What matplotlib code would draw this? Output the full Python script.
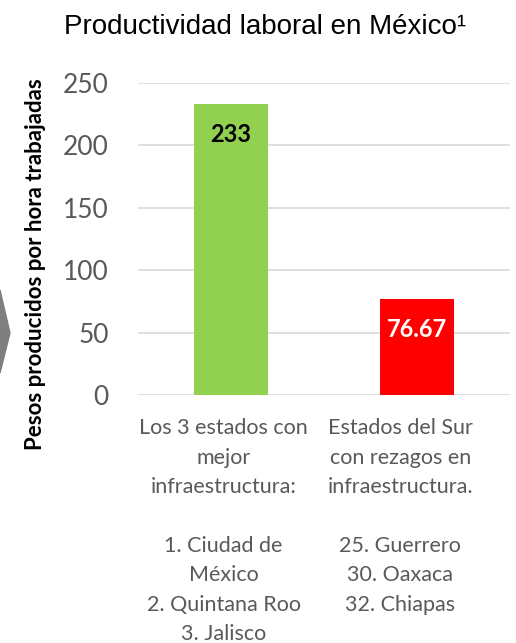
import matplotlib.pyplot as plt
from matplotlib.patches import Polygon

# Datos
categorias = [
    "Los 3 estados con\nmejor\ninfraestructura:\n\n1. Ciudad de\nMéxico\n2. Quintana Roo\n3. Jalisco",
    "Estados del Sur\ncon rezagos en\ninfraestructura.\n\n25. Guerrero\n30. Oaxaca\n32. Chiapas",
]
valores = [233, 76.67]
etiquetas = ["233", "76.67"]
colores = ["#92D050", "#FF0000"]
colores_texto = ["black", "white"]
yticks = [0, 50, 100, 150, 200, 250]

FONT = "Lato"
GRIS = "#595959"

fig = plt.figure(figsize=(5.16, 6.43), dpi=100)
ax = fig.add_axes([138 / 516, 248 / 643, 372 / 516, 312 / 643])

x = range(len(valores))
ax.bar(x, valores, width=0.4, color=colores, zorder=3)

for i, v in enumerate(valores):
    # etiqueta dentro de la barra, cerca del extremo superior
    ax.annotate(etiquetas[i], (i, v), xytext=(0, -22), textcoords="offset points",
                ha="center", va="center", fontsize=17, fontweight="bold",
                color=colores_texto[i], family=FONT, zorder=4)

ax.set_xlim(-0.5, 1.5)
ax.set_ylim(0, 250)
ax.set_yticks(yticks)
ax.set_yticklabels([str(t) for t in yticks], fontsize=19, color=GRIS, family=FONT)
ax.tick_params(axis="y", length=0, pad=21)
ax.set_xticks([])
ax.grid(axis="y", color="#D9D9D9", linewidth=1.2, zorder=0)
for s in ax.spines.values():
    s.set_visible(False)

# etiquetas de categoria (multilinea)
offsets = [-0.04, -0.09]
for i, cat in enumerate(categorias):
    ax.text(i + offsets[i], -0.075, cat, transform=ax.get_xaxis_transform(),
            ha="center", va="top", multialignment="center", fontsize=15.5,
            color=GRIS, family=FONT, linespacing=1.585)

fig.text(36 / 516, 1 - 264 / 643, "Pesos producidos por hora trabajadas",
         rotation=90, ha="center", va="center", fontsize=16, fontweight="bold",
         family=FONT, color="black")

fig.text(265 / 516, 1 - 27 / 643, "Productividad laboral en México¹",
         ha="center", va="center", fontsize=20, family="Liberation Sans", color="black")

# flecha gris en el borde izquierdo
flecha = Polygon([[0, 1 - 290 / 643], [0, 1 - 373 / 643], [10 / 516, 1 - 333 / 643]],
                 closed=True, transform=fig.transFigure, color="#7F7F7F")
fig.patches.append(flecha)

fig.savefig("out.png", dpi=100)
